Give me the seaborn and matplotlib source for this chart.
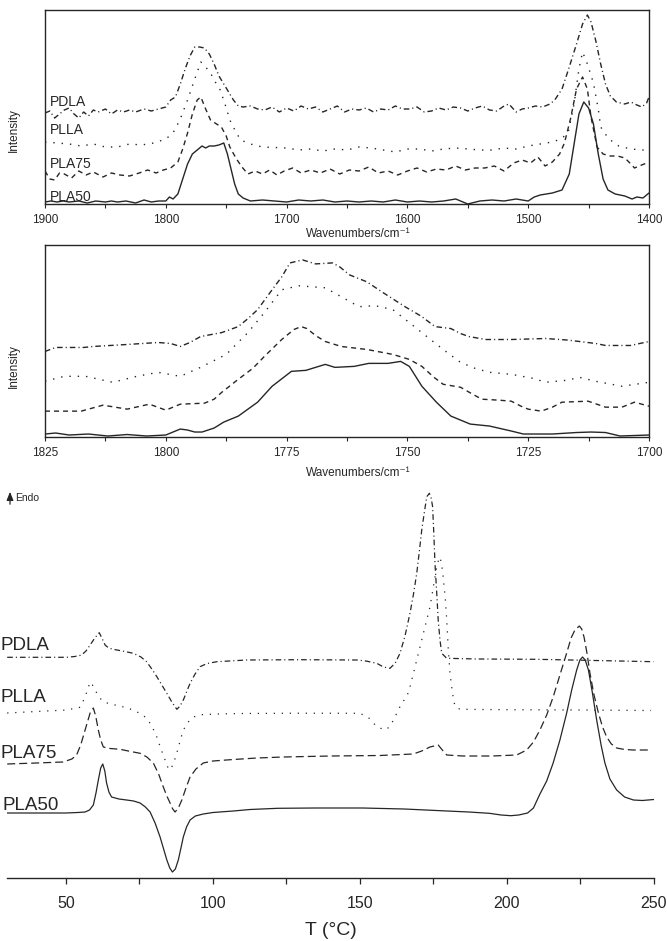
import matplotlib
matplotlib.use("Agg")
import matplotlib.pyplot as plt
import pandas as pd
import seaborn as sns
from matplotlib.ticker import MultipleLocator

# ---- FTIR overview, 1900-1400 cm-1 (stacked, arbitrary intensity) ----
ir_pla50_wn = [1900, 1895, 1890, 1885, 1880, 1872, 1865, 1858, 1850, 1845, 1840, 1833, 1825, 1818, 1812,
               1806, 1800, 1797, 1794, 1790, 1786, 1782, 1778, 1774, 1770, 1767, 1764, 1760, 1756, 1752,
               1749, 1746, 1743, 1740, 1736, 1730, 1720, 1710, 1700, 1690, 1680, 1670, 1660, 1650, 1640,
               1630, 1620, 1610, 1600, 1590, 1580, 1570, 1560, 1550, 1540, 1530, 1520, 1510, 1500, 1495,
               1490, 1480, 1472, 1466, 1462, 1458, 1454, 1450, 1446, 1442, 1438, 1434, 1428, 1420, 1414,
               1410, 1405, 1400]
ir_pla50 = [2, 3, 2, 3, 2, 3, 1, 3, 2, 3, 2, 3, 1, 4, 2,
            3, 3, 7, 5, 10, 25, 40, 50, 54, 58, 56, 58, 58, 59, 61,
            50, 35, 20, 10, 6, 3, 4, 3, 2, 4, 3, 4, 2, 3, 2,
            3, 2, 4, 2, 3, 2, 3, 5, 0, 3, 4, 3, 5, 3, 7,
            9, 11, 14, 30, 60, 90, 102, 96, 80, 50, 25, 14, 10, 8, 5,
            7, 6, 11]

ir_pla75_wn = [1900, 1896, 1892, 1888, 1884, 1878, 1872, 1866, 1860, 1852, 1845, 1838, 1830, 1822, 1815,
               1808, 1802, 1796, 1790, 1786, 1782, 1778, 1774, 1771, 1767, 1763, 1758, 1754, 1750, 1747,
               1742, 1737, 1732, 1726, 1720, 1714, 1708, 1702, 1695, 1688, 1680, 1672, 1664, 1656, 1648,
               1640, 1632, 1624, 1616, 1608, 1600, 1592, 1584, 1576, 1568, 1560, 1552, 1544, 1536, 1528,
               1520, 1512, 1505, 1498, 1492, 1486, 1480, 1474, 1470, 1465, 1460, 1455, 1451, 1448, 1443,
               1438, 1432, 1426, 1420, 1415, 1412, 1408, 1404, 1400]
ir_pla75 = [33, 25, 24, 31, 30, 26, 33, 29, 32, 27, 31, 29, 28, 31, 34,
            31, 34, 36, 42, 55, 71, 90, 104, 107, 95, 84, 80, 77, 68, 57,
            46, 37, 30, 33, 30, 34, 29, 33, 36, 31, 34, 31, 35, 30, 34,
            33, 37, 31, 33, 29, 33, 36, 32, 35, 34, 38, 34, 36, 36, 38,
            33, 41, 44, 41, 47, 38, 42, 50, 61, 85, 115, 127, 115, 87, 57,
            50, 48, 48, 46, 40, 36, 38, 40, 42]

ir_plla_wn = [1900, 1890, 1880, 1870, 1860, 1850, 1840, 1830, 1820, 1810, 1800, 1794, 1788, 1782, 1776,
              1771, 1767, 1763, 1759, 1755, 1751, 1747, 1742, 1738, 1730, 1720, 1700, 1690, 1680, 1670,
              1660, 1650, 1640, 1630, 1620, 1610, 1600, 1590, 1580, 1570, 1560, 1550, 1540, 1530, 1520,
              1510, 1500, 1490, 1480, 1473, 1467, 1462, 1458, 1455, 1451, 1446, 1442, 1440, 1435, 1432,
              1425, 1415, 1405, 1400]
ir_plla = [62, 61, 60, 58, 60, 57, 57, 60, 59, 61, 65, 71, 85, 104, 125,
           142, 137, 131, 122, 114, 100, 84, 72, 64, 60, 57, 56, 54, 55, 53,
           55, 54, 57, 56, 54, 52, 55, 55, 53, 55, 56, 55, 54, 54, 56,
           55, 58, 60, 62, 65, 71, 100, 135, 152, 140, 121, 95, 77, 68, 64,
           58, 55, 54, 54]

ir_pdla_wn = [1900, 1896, 1892, 1888, 1884, 1880, 1876, 1872, 1868, 1864, 1860, 1856, 1850, 1845, 1840,
              1835, 1830, 1825, 1818, 1812, 1806, 1800, 1796, 1792, 1788, 1784, 1780, 1776, 1772, 1768,
              1764, 1760, 1756, 1752, 1748, 1744, 1740, 1736, 1730, 1724, 1718, 1712, 1706, 1700, 1694,
              1688, 1682, 1676, 1670, 1664, 1658, 1652, 1646, 1640, 1634, 1628, 1622, 1616, 1610, 1604,
              1598, 1592, 1586, 1580, 1574, 1568, 1562, 1556, 1550, 1544, 1538, 1532, 1526, 1520, 1516,
              1510, 1505, 1500, 1494, 1488, 1482, 1478, 1472, 1466, 1460, 1455, 1451, 1448, 1444, 1440,
              1436, 1432, 1427, 1420, 1415, 1410, 1406, 1402, 1400]
ir_pdla = [91, 93, 86, 90, 94, 96, 90, 86, 92, 88, 94, 92, 95, 90, 94,
           92, 94, 92, 95, 93, 95, 97, 104, 107, 120, 135, 148, 157, 157, 156,
           150, 140, 128, 120, 112, 104, 98, 97, 98, 95, 94, 97, 92, 96, 93,
           98, 95, 97, 92, 95, 98, 92, 95, 94, 96, 92, 95, 94, 98, 95,
           95, 97, 92, 93, 96, 94, 97, 96, 93, 96, 98, 94, 93, 98, 100,
           92, 95, 96, 98, 97, 100, 104, 115, 137, 160, 180, 189, 182, 163, 140,
           120, 108, 102, 100, 102, 99, 97, 101, 107]

# ---- FTIR carbonyl region, 1825-1700 cm-1 ----
co_pla50_wn = [1825, 1822.8, 1820, 1816, 1812, 1808, 1804, 1800, 1798.5, 1797, 1795.5, 1794, 1792.5, 1790,
               1788, 1785, 1783, 1781, 1778, 1774, 1771, 1769, 1767, 1765, 1761, 1758, 1754, 1751.4,
               1749.6, 1748.3, 1747, 1744, 1741, 1737, 1733, 1728.5, 1726, 1720, 1715, 1712, 1709, 1706,
               1703, 1700]
co_pla50 = [2, 3, 1, 2, 0, 1.5, 0, 1, 4, 7, 6, 4, 4, 8,
            14, 20, 27, 34, 50, 65, 66, 69, 72, 69, 70, 73, 73, 75,
            70, 60, 50, 34, 20, 12, 10, 5, 2, 2, 3.5, 4, 3.5, 0,
            0.5, 1]

co_pla75_wn = [1825, 1817.5, 1813, 1808, 1803.4, 1800, 1797, 1792, 1790, 1788.4, 1785, 1782, 1779.6, 1776,
               1773.5, 1772, 1770.8, 1769, 1767, 1763.7, 1758.4, 1753, 1749.6, 1747, 1744.5, 1742.6, 1739,
               1736.5, 1734.6, 1731, 1728.5, 1726.5, 1725, 1722.3, 1720, 1718, 1712.6, 1709, 1705.6, 1703,
               1700]
co_pla75 = [25, 25, 31, 27, 32, 26, 32, 33, 37, 44, 57, 68, 80, 97,
            107, 110, 108, 101, 95, 90, 87, 82, 77, 70, 59, 52, 49,
            42, 37, 36, 35, 30, 27, 25, 29, 34, 35, 29, 29, 34,
            30]

co_plla_wn = [1825, 1821, 1816.6, 1811, 1806, 1801.6, 1797, 1792.8, 1787.5, 1783, 1779.6, 1776, 1772.5, 1767,
              1763.7, 1760, 1756.7, 1753, 1749.6, 1746, 1742.6, 1739, 1736, 1733, 1728.5, 1724, 1721.4,
              1717, 1714.4, 1711, 1705.6, 1700]
co_plla = [55, 60, 60, 54, 60, 64, 60, 69, 82, 104, 124, 147, 151, 149,
           140, 130, 131, 127, 114, 100, 87, 74, 68, 64, 62, 58, 54,
           56, 59, 55, 50, 54]

co_pdla_wn = [1825, 1822.8, 1817, 1815, 1808, 1801.6, 1799, 1797, 1795, 1792.8, 1788.4, 1785, 1783, 1781,
              1778, 1776, 1774.3, 1771.7, 1769, 1765.5, 1764, 1762, 1758.4, 1755, 1750.5, 1747, 1744.3,
              1741, 1739, 1737.3, 1733.8, 1728.5, 1721.4, 1717, 1714.4, 1711, 1709, 1703.8, 1700]
co_pdla = [85, 89, 89, 90, 92, 94, 93, 90, 94, 100, 104, 110, 118, 127,
           147, 160, 174, 177, 173, 174, 170, 162, 155, 144, 130, 120, 110,
           108, 103, 100, 97, 97, 98, 96.5, 95, 93, 91, 91, 95]

# ---- DSC heating scans (heat flow offset, endo up) ----
dsc_pla50_t = [30, 40, 50, 54, 56.5, 58, 59.3, 60.2, 61, 61.8, 62.5, 63.2, 63.8, 64.6, 65.5, 68, 70.6, 73,
               75.2, 77, 78.6, 80.3, 82, 83.2, 84.3, 85.3, 86.2, 87.2, 88.2, 89.1, 89.9, 91, 92.2, 94,
               96.7, 100, 106.9, 112.6, 122, 135, 150.8, 165, 179.6, 187, 194, 198, 201.3, 204, 207,
               209, 211.2, 213.5, 215.7, 218, 220.3, 222, 223.7, 224.8, 225.7, 226.6, 227.7, 229, 230.5,
               232, 233.3, 235, 237.3, 240, 243, 246, 250]
dsc_pla50 = [65, 65, 65, 65.5, 66, 68, 73, 85, 98, 110, 114, 107, 95, 86, 81, 79, 78, 77,
             75, 71, 66, 55, 41, 29, 18, 10, 6, 9, 18, 30, 41, 51, 58, 62,
             64, 65.5, 67, 68.5, 69.7, 70, 70, 69, 67, 66, 64.7, 63, 62.3, 63, 65,
             70, 84, 97, 115, 138, 165, 188, 208, 218, 221, 218, 208, 186, 158,
             133, 115, 99, 88, 81, 78, 77.5, 78.5]

dsc_pla75_t = [30, 40, 49, 52, 53.6, 55, 56.5, 57.5, 58.2, 59.3, 60.1, 61, 61.8, 62.7, 65, 68.4, 72,
               75.2, 77.5, 79.7, 81.5, 83.1, 84.3, 85.4, 86.3, 87.1, 88.2, 89.4, 90.8, 92.2, 94.2, 96.7,
               100, 106.9, 115, 123.9, 140, 156.8, 168.1, 171, 173.8, 176.6, 178, 179.5, 185, 195, 203.3,
               206.7, 209, 211.2, 213.5, 215.7, 218, 220.3, 221.8, 223.1, 224.6, 225.4, 226.2, 227.2,
               228.2, 229.6, 231.1, 232.5, 233.9, 235.5, 237.3, 240, 243, 248]
dsc_pla75 = [114, 115, 116, 119, 123, 133, 148, 158, 165, 170, 162, 148, 138, 131, 129.5, 128.7, 126.5,
             124.7, 121, 115, 104, 91, 82, 75, 69, 66, 70, 78, 90, 101, 109, 115,
             117, 118.5, 120, 121, 122, 122.5, 124, 127, 131, 133, 128, 123, 122, 122, 123,
             128, 136, 148, 163, 181, 203, 225, 240, 248, 252, 249, 241, 225,
             205, 183, 165, 151, 141, 134, 130, 128.5, 128, 128]

dsc_plla_t = [30, 40, 50.2, 54.8, 56.5, 57.4, 58.2, 59, 59.9, 61.2, 62.7, 65, 68.4, 72.9, 75.5, 77.4,
              79.2, 80.9, 82.3, 83.7, 84.6, 85.4, 86.5, 87.7, 88.8, 89.9, 91.6, 93.3, 96, 101.3, 110,
              130, 150, 153, 155.7, 158.5, 160.2, 162.5, 164.2, 165.9, 167, 168.7, 170.4, 172.1, 173.8,
              175, 176.1, 177, 177.7, 178.3, 179, 179.5, 180, 180.6, 181.4, 182.3, 184, 200, 225, 249]
dsc_plla = [165, 166.5, 168, 170.7, 181, 189, 196, 193, 188, 181, 176.3, 174, 172, 168, 164, 160,
            152, 141, 129, 118, 111, 108, 114, 125, 137, 148, 156, 161, 163.3, 164, 164.5,
            164.8, 164.7, 160, 151.3, 148, 151.3, 164.7, 175, 181, 191, 211, 231, 251, 271,
            292, 311, 321, 316, 301, 280, 258, 230, 205, 186, 171.3, 168.7, 168.3, 168, 167.5]

dsc_pdla_t = [30, 40, 50.2, 53, 55.3, 56.8, 58.2, 59.8, 61.3, 62.2, 63.3, 64.5, 66.1, 70, 72.9, 75.5,
              77.4, 79.2, 80.9, 82.6, 84.3, 86, 87.7, 88.8, 89.9, 91, 92.2, 93.9, 95.6, 98, 101.3, 111.5,
              130, 148.9, 152, 155.7, 158, 160.2, 162, 163.6, 165.3, 167, 168.2, 169.3, 170.2, 171,
              171.9, 172.7, 173.6, 174.2, 174.7, 175.1, 175.5, 176.1, 176.6, 177.2, 177.8, 179.5, 190,
              210, 230, 249.8]
dsc_pdla = [220.7, 220.7, 220.7, 221.5, 223, 227, 233, 240, 245.3, 240, 233, 230, 228.7, 226.5, 224.7, 221,
            216.3, 209, 201.3, 193, 184.7, 176, 168.7, 172, 178, 186, 194.7, 204, 211.3, 214.5, 216.3, 218,
            218.3, 218, 217, 214.7, 211, 209.7, 215, 224.7, 242, 264.7, 284, 304.7, 327, 348,
            366, 381.3, 384.7, 380, 371.3, 345, 314.7, 285, 258, 238, 224.7, 219.7, 219,
            218.7, 217.5, 216.3]

samples = ["PDLA", "PLLA", "PLA75", "PLA50"]
ir_dashes = {"PDLA": (4, 2.2, 0.8, 2.2), "PLLA": (1, 5), "PLA75": (3.6, 2.9), "PLA50": ""}
dsc_dashes = {"PDLA": (4.5, 2.4, 0.9, 2.4), "PLLA": (1, 5.4), "PLA75": (6.4, 3.2), "PLA50": ""}
ink = "#262626"


def long_frame(series):
    parts = [pd.DataFrame({"x": x, "y": y, "sample": name}) for name, (x, y) in series.items()]
    return pd.concat(parts, ignore_index=True)


def draw(ax, frame, lw, dashes):
    sns.lineplot(data=frame, x="x", y="y", style="sample", dashes=dashes, color=ink,
                 lw=lw, estimator=None, sort=False, legend=False, ax=ax)
    ax.set_xlabel("")
    ax.set_ylabel("")


sns.set_style("ticks")
plt.rcParams["font.family"] = ["Liberation Sans", "DejaVu Sans"]

fig = plt.figure(figsize=(6.67, 9.41), dpi=100)
ax_ir = fig.add_axes([45 / 667, 1 - 204 / 941, 604 / 667, 194 / 941])
ax_co = fig.add_axes([45 / 667, 1 - 437 / 941, 604 / 667, 192 / 941])
ax_dsc = fig.add_axes([7.2 / 667, 1 - 878 / 941, 646.8 / 667, 393 / 941])

ir = long_frame({"PDLA": (ir_pdla_wn, ir_pdla), "PLLA": (ir_plla_wn, ir_plla),
                 "PLA75": (ir_pla75_wn, ir_pla75), "PLA50": (ir_pla50_wn, ir_pla50)})
co = long_frame({"PDLA": (co_pdla_wn, co_pdla), "PLLA": (co_plla_wn, co_plla),
                 "PLA75": (co_pla75_wn, co_pla75), "PLA50": (co_pla50_wn, co_pla50)})
dsc = long_frame({"PDLA": (dsc_pdla_t, dsc_pdla), "PLLA": (dsc_plla_t, dsc_plla),
                  "PLA75": (dsc_pla75_t, dsc_pla75), "PLA50": (dsc_pla50_t, dsc_pla50)})

draw(ax_ir, ir, 1.0, ir_dashes)
draw(ax_co, co, 1.0, ir_dashes)
draw(ax_dsc, dsc, 0.9, dsc_dashes)

# FTIR panels
for ax, xlim, major, minor, ylim, lab_y, xlab_y in [
    (ax_ir, (1900, 1400), 100, 50, (0, 194), 0.38, -0.125),
    (ax_co, (1825, 1700), 25, 12.5, (-1, 192), 0.37, -0.155),
]:
    ax.set_xlim(*xlim)
    ax.set_ylim(*ylim)
    ax.xaxis.set_major_locator(MultipleLocator(major))
    ax.xaxis.set_minor_locator(MultipleLocator(minor))
    ax.set_yticks([])
    ax.tick_params(axis="x", which="both", direction="out", length=3, width=0.8,
                   colors=ink, labelsize=8.5, pad=4)
    for sp in ax.spines.values():
        sp.set_visible(True)
        sp.set_linewidth(1.0)
        sp.set_color(ink)
    ax.set_xlabel("Wavenumbers/cm⁻¹", fontsize=8.5, color=ink)
    ax.xaxis.set_label_coords(0.518, xlab_y)
    ax.set_ylabel("Intensity", fontsize=8.5, color=ink)
    ax.yaxis.set_label_coords(-0.041, lab_y)

for name, h in zip(samples, [102, 73.5, 39.5, 7]):
    ax_ir.text(1896, h, name, fontsize=10, color=ink, va="center", ha="left")

# DSC panel
ax_dsc.set_xlim(30, 250)
ax_dsc.set_ylim(0, 393)
ax_dsc.xaxis.set_major_locator(MultipleLocator(50))
ax_dsc.xaxis.set_minor_locator(MultipleLocator(25))
ax_dsc.set_yticks([])
for side in ["left", "top", "right"]:
    ax_dsc.spines[side].set_visible(False)
ax_dsc.spines["bottom"].set_linewidth(1.0)
ax_dsc.spines["bottom"].set_color(ink)
ax_dsc.tick_params(axis="x", which="both", direction="out", length=4, width=0.9,
                   colors=ink, labelsize=11.5, pad=9)
ax_dsc.set_xlabel("T (°C)", fontsize=14, color=ink, labelpad=8)

for name, h, x0 in zip(samples, [232, 180, 125, 73], [27.6, 27.6, 27.6, 28.5]):
    ax_dsc.text(x0, h, name, fontsize=13.5, color=ink, va="center", ha="left", clip_on=False)

ax_dsc.annotate("", xy=(10, 941 - 489), xytext=(10, 941 - 507), xycoords="figure pixels",
                textcoords="figure pixels",
                arrowprops=dict(arrowstyle="-|>,head_length=0.5,head_width=0.2", lw=0.9, color=ink))
fig.text(15 / 667, 1 - 498 / 941, "Endo", fontsize=7.5, color=ink, va="center", ha="left")

fig.savefig("out.png", dpi=100)
